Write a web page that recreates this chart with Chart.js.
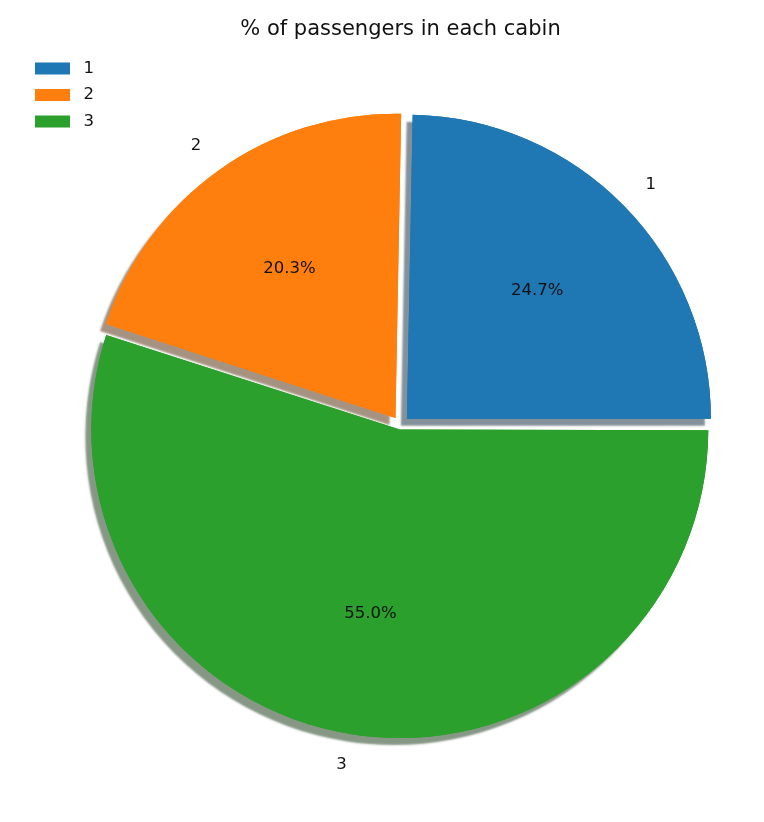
<!DOCTYPE html>
<html>
<head>
<meta charset="utf-8">
<title>% of passengers in each cabin</title>
<script src="https://cdn.jsdelivr.net/npm/chart.js@4.4.0/dist/chart.umd.min.js"></script>
<style>
  html, body { margin: 0; padding: 0; background: #fff; }
  #wrap { width: 764px; height: 822px; }
</style>
</head>
<body>
<div id="wrap"><canvas id="pie"></canvas></div>
<script>
const cabins = ['1', '2', '3'];
const shares = [24.7, 20.3, 55.0];
const chartTitle = '% of passengers in each cabin';

const colors = ['#1f77b4', '#ff7f0e', '#2ca02c'];
const fontFamily = 'DejaVu Sans';
const textColor = '#111';
const explodePx = 9;

// matplotlib walks counter-clockwise from 3 o'clock, Chart.js clockwise,
// so hand the slices over in reverse and start at rotation 90
const order = cabins.map((_, i) => cabins.length - 1 - i);
const total = shares.reduce((a, b) => a + b, 0);

// ArcElement moves a wedge by offset/4 * (2 - sin(min(PI, circumference)))
function shiftFactor(circ) {
  return (2 - Math.sin(Math.min(Math.PI, circ))) / 4;
}

function shadeOf(hex) {
  const n = parseInt(hex.slice(1), 16);
  const r = (n >> 16) & 255, g = (n >> 8) & 255, b = n & 255;
  return `rgba(${Math.round(r * 0.3)}, ${Math.round(g * 0.3)}, ${Math.round(b * 0.3)}, 0.5)`;
}

// grey copy of every wedge, shifted down-left, drawn under all wedges
const pieShadow = {
  id: 'pieShadow',
  beforeDatasetsDraw(chart) {
    const ctx = chart.ctx;
    const dpr = chart.currentDevicePixelRatio || 1;
    chart.getDatasetMeta(0).data.forEach((arc, i) => {
      ctx.save();
      ctx.shadowColor = shadeOf(colors[order[i]]);
      ctx.shadowOffsetX = -6 * dpr;
      ctx.shadowOffsetY = 7 * dpr;
      ctx.shadowBlur = 2 * dpr;
      arc.draw(ctx);
      ctx.restore();
    });
  }
};

// category name outside (1.1 r) and percentage inside (0.6 r), like autopct
const pieLabels = {
  id: 'pieLabels',
  afterDatasetsDraw(chart) {
    const ctx = chart.ctx;
    const values = chart.data.datasets[0].data;
    chart.getDatasetMeta(0).data.forEach((arc, i) => {
      const p = arc.getProps(['x', 'y', 'startAngle', 'endAngle', 'outerRadius', 'circumference'], true);
      const mid = (p.startAngle + p.endAngle) / 2;
      const dx = Math.cos(mid), dy = Math.sin(mid);
      const shift = (arc.options.offset || 0) * shiftFactor(p.circumference);
      const cx = p.x + dx * shift, cy = p.y + dy * shift;
      const r = p.outerRadius;
      ctx.save();
      ctx.fillStyle = textColor;
      ctx.font = `16.5px "${fontFamily}"`;
      ctx.textBaseline = 'middle';
      ctx.textAlign = 'center';
      ctx.fillText((values[i] / total * 100).toFixed(1) + '%', cx + dx * r * 0.6, cy + dy * r * 0.6);
      ctx.textAlign = dx >= 0 ? 'left' : 'right';
      ctx.fillText(chart.data.labels[i], cx + dx * r * 1.1, cy + dy * r * 1.1);
      ctx.restore();
    });
  }
};

Chart.defaults.font.family = fontFamily;
Chart.defaults.color = textColor;

new Chart(document.getElementById('pie'), {
  type: 'pie',
  data: {
    labels: order.map(i => cabins[i]),
    datasets: [{
      data: order.map(i => shares[i]),
      backgroundColor: order.map(i => colors[i]),
      borderWidth: 0,
      offset: c => explodePx / shiftFactor(c.raw / total * 2 * Math.PI),
      hoverOffset: 0
    }]
  },
  options: {
    responsive: true,
    maintainAspectRatio: false,
    animation: false,
    events: [],
    rotation: 90,
    radius: 304,
    layout: { padding: { left: 25, right: 67, top: 0, bottom: 22 } },
    plugins: {
      title: {
        display: true,
        fullSize: false,
        text: chartTitle,
        font: { size: 21, weight: 'normal' },
        padding: { top: 17, bottom: 8 }
      },
      legend: {
        position: 'left',
        align: 'start',
        fullSize: false,
        labels: {
          boxWidth: 35,
          boxHeight: 12,
          padding: 10,
          font: { size: 16.5 },
          sort: (a, b) => b.index - a.index,
          generateLabels: chart => {
            const items = Chart.overrides.pie.plugins.legend.labels.generateLabels(chart);
            items.forEach(it => { it.text = ' ' + it.text; });
            return items;
          }
        }
      },
      tooltip: { enabled: false }
    }
  },
  plugins: [pieShadow, pieLabels]
});
</script>
</body>
</html>
